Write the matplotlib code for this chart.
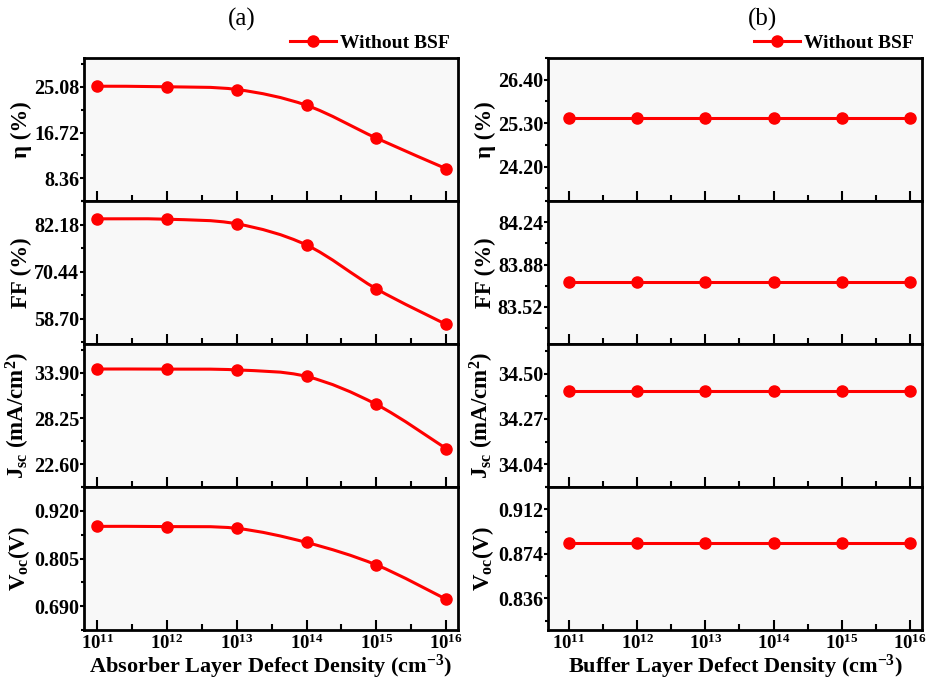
import numpy as np
import matplotlib
matplotlib.use("Agg")
import matplotlib.pyplot as plt
from matplotlib.path import Path
from matplotlib.patches import PathPatch
from matplotlib.lines import Line2D

plt.rcParams['font.family'] = ['Liberation Serif', 'DejaVu Serif']
plt.rcParams['font.weight'] = 'bold'
plt.rcParams['mathtext.fontset'] = 'custom'
plt.rcParams['mathtext.rm'] = 'Liberation Serif:bold'
plt.rcParams['mathtext.bf'] = 'Liberation Serif:bold'
plt.rcParams['mathtext.it'] = 'Liberation Serif:bold'

# defect density exponents (10^x cm^-3)
density_exp = [11, 12, 13, 14, 15, 16]

# (a) absorber layer defect density
abs_eta = [25.2, 25.1, 24.6, 21.7, 15.7, 10.1]
abs_ff = [83.6, 83.5, 82.35, 77.06, 66.13, 57.26]
abs_jsc = [34.34, 34.33, 34.23, 33.42, 29.97, 24.52]
abs_voc = [0.8825, 0.882, 0.8777, 0.8437, 0.7895, 0.7067]

# (b) buffer layer defect density
buf_eta = [25.42, 25.42, 25.42, 25.42, 25.42, 25.42]
buf_ff = [83.735, 83.735, 83.735, 83.735, 83.735, 83.735]
buf_jsc = [34.414, 34.414, 34.414, 34.414, 34.414, 34.414]
buf_voc = [0.8828, 0.8828, 0.8828, 0.8828, 0.8828, 0.8828]

abs_ticks = [[8.36, 16.72, 25.08], [58.70, 70.44, 82.18], [22.60, 28.25, 33.90], [0.690, 0.805, 0.920]]
abs_lims = [(5.8, 30.37), (52.37, 86.51), (21.52, 37.43), (0.6556, 0.9336)]
buf_ticks = [[24.20, 25.30, 26.40], [83.52, 83.88, 84.24], [34.04, 34.27, 34.50], [0.836, 0.874, 0.912]]
buf_lims = [(23.33, 26.78), (83.205, 84.288), (33.967, 34.65), (0.809, 0.9195)]
tick_fmt = ['{:.2f}', '{:.2f}', '{:.2f}', '{:.3f}']

ylabels = ['η (%)', 'FF (%)', r'$\mathbf{J_{sc}}$ (mA/cm$^\mathbf{2}$)', r'$\mathbf{V_{oc}}$(V)']

RED = '#ff0000'


def smooth_path(x, y):
    # Catmull-Rom spline through the points, drawn as cubic Bezier segments
    x = np.asarray(x, float)
    y = np.asarray(y, float)
    pts = np.column_stack([x, y])
    verts = [pts[0]]
    codes = [Path.MOVETO]
    n = len(pts)
    for i in range(n - 1):
        p0 = pts[max(i - 1, 0)]
        p1 = pts[i]
        p2 = pts[i + 1]
        p3 = pts[min(i + 2, n - 1)]
        c1 = p1 + (p2 - p0) / 6.0
        c2 = p2 - (p3 - p1) / 6.0
        verts += [c1, c2, p2]
        codes += [Path.CURVE4] * 3
    return Path(verts, codes)


fig = plt.figure(figsize=(9.26, 6.81), dpi=100)

columns = [
    (0.0907, [abs_eta, abs_ff, abs_jsc, abs_voc], abs_ticks, abs_lims, (10.81, 16.17),
     'Absorber Layer Defect Density (cm$^\\mathbf{-3}$)', '(a)', 0.261, -0.138),
    (0.5918, [buf_eta, buf_ff, buf_jsc, buf_voc], buf_ticks, buf_lims, (10.69, 16.18),
     'Buffer Layer Defect Density (cm$^\\mathbf{-3}$)', '(b)', 0.823, -0.138),
]

top = 1 - 58 / 681
bottom = 1 - 630 / 681
row_h = (top - bottom) / 4
width = 0.4039

for x0, series, ticks, lims, xlim, xlabel, tag, tag_x, lab_x in columns:
    axes = []
    for r in range(4):
        ax = fig.add_axes([x0, top - (r + 1) * row_h, width, row_h])
        ax.set_facecolor('#f8f8f8')
        vals = series[r]
        if max(vals) - min(vals) > 0:
            ax.add_patch(PathPatch(smooth_path(density_exp, vals), facecolor='none',
                                   edgecolor=RED, lw=2.2, zorder=2))
        else:
            ax.plot(density_exp, vals, '-', color=RED, lw=2.2, zorder=2)
        ax.plot(density_exp, vals, 'o', color=RED, ms=8, zorder=3)

        ax.set_xlim(*xlim)
        ax.set_ylim(*lims[r])
        step = ticks[r][1] - ticks[r][0]
        ax.set_yticks(ticks[r])
        ax.set_yticklabels([tick_fmt[r].format(v) for v in ticks[r]])
        ax.set_yticks([t + step / 2 for t in ticks[r]] + [ticks[r][0] - step / 2], minor=True)
        ax.set_xticks(density_exp)
        ax.set_xticks([e + 0.5 for e in density_exp[:-1]], minor=True)
        if r == 3:
            ax.set_xticklabels(['$\\mathbf{10^{%d}}$' % e for e in density_exp])
            ax.set_xlabel(xlabel, fontsize=16, fontweight='bold', labelpad=0)
        else:
            ax.set_xticklabels([])

        ax.tick_params(axis='y', which='major', direction='out', length=3, width=1.5,
                       labelsize=14.5, pad=0.5)
        ax.tick_params(axis='y', which='minor', direction='out', length=2, width=1.5)
        ax.tick_params(axis='x', which='major', direction='in', length=7, width=1.5,
                       labelsize=13.5, pad=2.5)
        ax.tick_params(axis='x', which='minor', direction='in', length=4, width=1.5)
        for sp in ax.spines.values():
            sp.set_linewidth(2)
        ax.set_ylabel(ylabels[r], fontsize=16.5, fontweight='bold')
        ax.yaxis.set_label_coords(lab_x, 0.5)
        axes.append(ax)

    handle = Line2D([], [], color=RED, lw=2.2, marker='o', ms=8)
    axes[0].legend([handle], ['Without BSF'], loc='lower right', bbox_to_anchor=(1.01, 0.96),
                   frameon=False, handlelength=2.4, handletextpad=0.2,
                   borderpad=0.1, prop={'weight': 'bold', 'size': 14})
    fig.text(tag_x, 1 - 19 / 681, tag, ha='center', va='center', fontsize=18, fontweight='normal')

fig.savefig('out.png', dpi=100)
